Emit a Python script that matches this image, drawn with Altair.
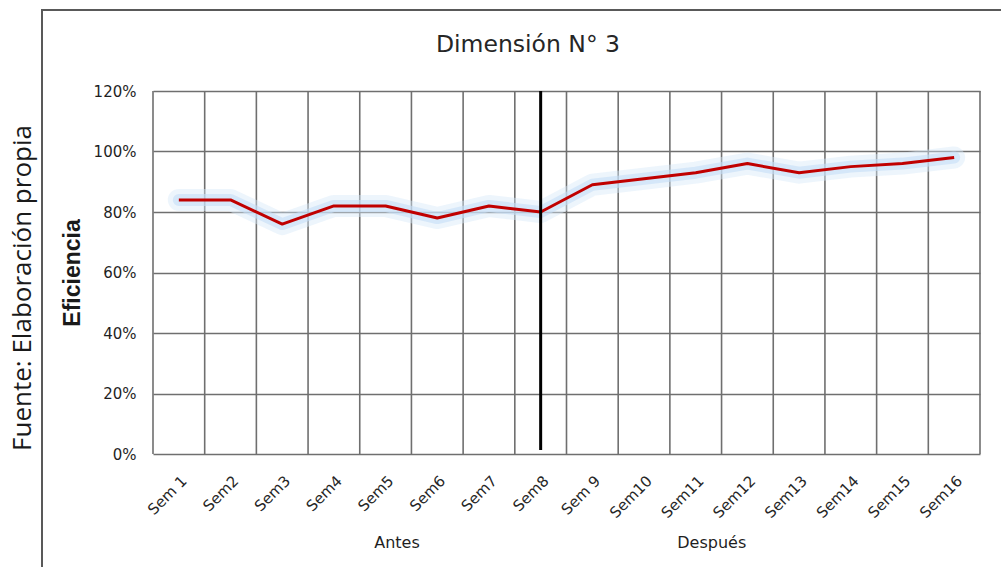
import json
import altair as alt
import pandas as pd

# ---- data ----
weeks = ["Sem 1", "Sem2", "Sem3", "Sem4", "Sem5", "Sem6", "Sem7", "Sem8",
         "Sem 9", "Sem10", "Sem11", "Sem12", "Sem13", "Sem14", "Sem15", "Sem16"]
efficiency = [0.84, 0.84, 0.76, 0.82, 0.82, 0.78, 0.82, 0.80,
              0.89, 0.91, 0.93, 0.96, 0.93, 0.95, 0.96, 0.98]
y_ticks = [0.0, 0.2, 0.4, 0.6, 0.8, 1.0, 1.2]
divider_week = "Sem8"
group_labels = ["Antes", "Después"]
group_centers = [4.22, 10.31]   # category positions (index units) of the group labels
title_text = "Dimensión N° 3"
y_title = "Eficiencia"
source_text = "Fuente: Elaboración propia"

W, H = 827, 363
n = len(weeks)

df = pd.DataFrame({"idx": list(range(n)), "week": weeks, "eff": efficiency})
bounds = pd.DataFrame({"b": [i - 0.5 for i in range(n + 1)]})
divider = pd.DataFrame({"idx": [weeks.index(divider_week)]})
groups = pd.DataFrame({"pos": group_centers, "label": group_labels})
one = pd.DataFrame({"k": [0]})

xscale = alt.Scale(domain=[-0.5, n - 0.5], nice=False, zero=False)
yscale = alt.Scale(domain=[0, 1.2], nice=False)
label_expr = json.dumps(weeks) + "[datum.value]"

HFONT = "DejaVu Sans"
GRID = "#6f6f6f"

x_axis = alt.Axis(values=list(range(n)), labelExpr=label_expr, labelAngle=315,
                  labelAlign="right", labelBaseline="top", labelPadding=19,
                  labelOffset=0, labelFont=HFONT, labelFontSize=15,
                  labelColor="#262626", labelOverlap=False, ticks=False,
                  domain=False, grid=False, title=None)
y_axis = alt.Axis(values=y_ticks, format=".0%", labelFont=HFONT, labelFontSize=15,
                  labelColor="#1f1f1f", labelPadding=17, ticks=False, domain=False,
                  grid=True, gridColor=GRID, gridWidth=1.6,
                  title=y_title, titleFont="Liberation Sans", titleFontSize=23,
                  titleFontWeight="bold", titleColor="#1a1a1a", titleAngle=270,
                  titleAlign="center", titleBaseline="alphabetic",
                  titleX=-74, titleY=H / 2)

frame = alt.Chart(one).mark_rect(fill=None, stroke="#595959", strokeWidth=2).encode(
    x=alt.value(-111), y=alt.value(-81), x2=alt.value(1000), y2=alt.value(700))

title = alt.Chart(one).mark_text(text=title_text, font=HFONT, fontSize=23.5,
                                 color="#262626", align="center",
                                 baseline="middle").encode(
    x=alt.value(375), y=alt.value(-46))

source = alt.Chart(one).mark_text(text=source_text, font="Open Sans", fontSize=26,
                                  angle=270, align="center", baseline="alphabetic",
                                  color="#1a1a1a").encode(
    x=alt.value(-122), y=alt.value(197))

vgrid = alt.Chart(bounds).mark_rule(color=GRID, strokeWidth=1.6).encode(
    x=alt.X("b:Q", scale=xscale, axis=x_axis), y=alt.value(0), y2=alt.value(H))

glow1 = alt.Chart(df).mark_line(color="#d6e8f9", strokeWidth=22, opacity=0.45,
                                strokeCap="round", strokeJoin="round").encode(
    x=alt.X("idx:Q", scale=xscale),
    y=alt.Y("eff:Q", scale=yscale, axis=y_axis))
glow2 = alt.Chart(df).mark_line(color="#c4ddf6", strokeWidth=12, opacity=0.6,
                                strokeCap="round", strokeJoin="round").encode(
    x=alt.X("idx:Q", scale=xscale), y=alt.Y("eff:Q", scale=yscale))
line = alt.Chart(df).mark_line(color="#c00000", strokeWidth=3,
                               strokeJoin="round").encode(
    x=alt.X("idx:Q", scale=xscale), y=alt.Y("eff:Q", scale=yscale))

div_rule = alt.Chart(divider).mark_rule(color="black", strokeWidth=3).encode(
    x=alt.X("idx:Q", scale=xscale), y=alt.value(0), y2=alt.value(H - 4))

group_text = alt.Chart(groups).mark_text(font=HFONT, fontSize=16, color="#1f1f1f",
                                         baseline="middle").encode(
    x=alt.X("pos:Q", scale=xscale), y=alt.value(452), text="label:N")

chart = alt.layer(vgrid, frame, title, source, glow1, glow2, line, div_rule,
                  group_text).properties(
    width=W, height=H,
    autosize=alt.AutoSizeParams(type="none"),
    padding={"left": 153, "top": 91, "right": 21, "bottom": 113},
    background="white",
).configure_view(stroke=None)

chart.save("out.html", embed_options={"renderer": "svg", "actions": False})
